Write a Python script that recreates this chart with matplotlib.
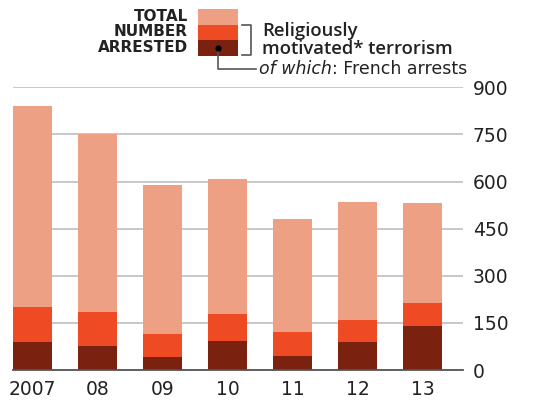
import matplotlib
matplotlib.use("Agg")
import matplotlib.pyplot as plt
from matplotlib.patches import Rectangle
from matplotlib.lines import Line2D

# data
years = ["2007", "08", "09", "10", "11", "12", "13"]
total_arrested = [841, 751, 589, 608, 482, 534, 532]
religious = [200, 186, 116, 177, 120, 158, 214]
french = [89, 76, 40, 92, 45, 89, 141]
yticks = [0, 150, 300, 450, 600, 750, 900]

c_total = "#EDA083"
c_relig = "#EE4A24"
c_french = "#7A2110"
c_grid = "#C4C4C4"
c_text = "#222222"

W, H = 535, 400
fig = plt.figure(figsize=(W / 100, H / 100), dpi=100)

def fx(x):
    return x / W

def fy(y):
    return 1 - y / H

ax = fig.add_axes([fx(13), fy(370), fx(463) - fx(13), fy(87.3) - fy(370)])

x = list(range(len(years)))
ax.bar(x, total_arrested, width=0.6, color=c_total, zorder=3)
ax.bar(x, religious, width=0.6, color=c_relig, zorder=3)
ax.bar(x, french, width=0.6, color=c_french, zorder=3)

ax.set_xlim(-0.3, 6.62)
ax.set_ylim(0, 900)
ax.set_yticks(yticks)
ax.yaxis.tick_right()
ax.set_yticklabels([str(v) for v in yticks])
ax.set_xticks(x)
ax.set_xticklabels(years)
ax.tick_params(axis="y", length=0, pad=7, labelsize=13.5, labelcolor=c_text)
ax.tick_params(axis="x", length=0, pad=7, labelsize=13.5, labelcolor=c_text)
for tl in ax.get_yticklabels():
    tl.set_horizontalalignment("left")

ax.grid(axis="y", color=c_grid, linewidth=1.3, zorder=0)
ax.grid(axis="x", visible=False)
for s in ["left", "right", "top"]:
    ax.spines[s].set_visible(False)
ax.spines["bottom"].set_color("#555555")
ax.spines["bottom"].set_linewidth(1.3)
ax.spines["bottom"].set_zorder(4)

# legend block
for text, yc in [("TOTAL", 16.5), ("NUMBER", 32), ("ARRESTED", 47.5)]:
    fig.text(fx(188), fy(yc), text, ha="right", va="center",
             fontsize=11, fontweight="bold", color=c_text)

sq_x0, sq_x1 = 198.3, 237.7
for (y0, y1), col in [((9, 24.5), c_total), ((24.5, 40), c_relig), ((40, 56), c_french)]:
    fig.add_artist(Rectangle((fx(sq_x0), fy(y1)), fx(sq_x1) - fx(sq_x0), fy(y0) - fy(y1),
                             transform=fig.transFigure, color=col, lw=0))

# bracket for religiously motivated
bx = [242, 251, 251, 242]
by = [25, 25, 54.5, 54.5]
fig.add_artist(Line2D([fx(v) for v in bx], [fy(v) for v in by],
                      transform=fig.transFigure, color="#555555", lw=1.2))

# dot and elbow line for French arrests
fig.add_artist(Line2D([fx(217.7), fx(217.7), fx(256)], [fy(48.3), fy(69), fy(69)],
                      transform=fig.transFigure, color="#555555", lw=1.2))
fig.add_artist(Line2D([fx(217.7)], [fy(48.3)], transform=fig.transFigure,
                      marker="o", markersize=3.5, color="black", lw=0))

fig.text(fx(262), fy(31), "Religiously", ha="left", va="center",
         fontsize=13.3, fontweight="semibold", family=["Open Sans", "DejaVu Sans"],
         color=c_text)
fig.text(fx(262), fy(49), "motivated* terrorism", ha="left", va="center",
         fontsize=13.3, fontweight="semibold", family=["Open Sans", "DejaVu Sans"],
         color=c_text)

t1 = fig.text(fx(259), fy(69), "of which", ha="left", va="center",
              fontsize=12.5, fontstyle="italic", color=c_text)
fig.canvas.draw()
bb = t1.get_window_extent(renderer=fig.canvas.get_renderer())
fig.text(bb.x1 / fig.bbox.width, fy(69), ": French arrests", ha="left", va="center",
         fontsize=12.5, color=c_text)

fig.savefig("out.png", dpi=100)
